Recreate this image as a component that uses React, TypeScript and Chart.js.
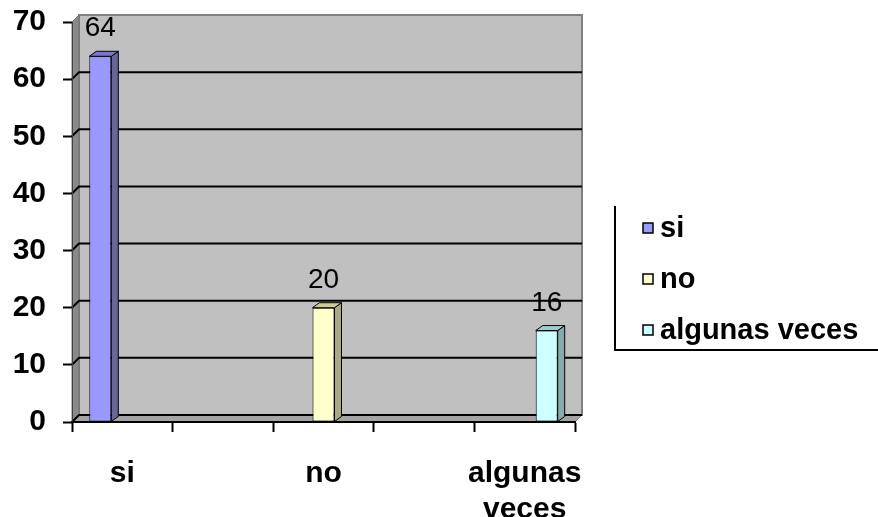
import React, { useEffect, useRef } from 'react';
import { Chart, registerables } from 'chart.js';

Chart.register(...registerables);

// ---- data ----
const categories = ['si', 'no', 'algunas veces'];
const categoryPositions = [0.5, 2.5, 4.5];
const seriesNames = ['si', 'no', 'algunas veces'];
const siValues = [64, null, null];
const noValues = [null, 20, null];
const algunasValues = [null, null, 16];
const yMin = 0;
const yMax = 70;
const yStep = 10;
const xMin = 0;
const xMax = 5;

// ---- styles ----
const FONT = '"Liberation Sans", Arial, Helvetica, sans-serif';
const frontColors = ['#9999FF', '#FFFFCC', '#CCFFFF'];
const sideColors = ['#666699', '#AAAA88', '#88AAAA'];
const topColors = ['#7777CC', '#CCCC99', '#99CCCC'];
const WALL = { dx: 7, dy: 7 };
const BAR = { dx: 7, dy: 5 };

function poly(ctx: CanvasRenderingContext2D, pts: number[][], fill: string, stroke?: string, lw = 1) {
  ctx.beginPath();
  ctx.moveTo(pts[0][0], pts[0][1]);
  for (let i = 1; i < pts.length; i++) ctx.lineTo(pts[i][0], pts[i][1]);
  ctx.closePath();
  ctx.fillStyle = fill;
  ctx.fill();
  if (stroke) {
    ctx.strokeStyle = stroke;
    ctx.lineWidth = lw;
    ctx.stroke();
  }
}

const wallPlugin = {
  id: 'wall3d',
  beforeDraw(chart: any) {
    const { ctx, chartArea } = chart;
    const { left, right, top, bottom } = chartArea;
    const y = chart.scales.y;
    ctx.save();
    poly(ctx, [
      [left + WALL.dx, top - WALL.dy],
      [right + WALL.dx, top - WALL.dy],
      [right + WALL.dx, bottom - WALL.dy],
      [left + WALL.dx, bottom - WALL.dy],
    ], '#C0C0C0', '#808080', 2);
    poly(ctx, [
      [left, top],
      [left + WALL.dx, top - WALL.dy],
      [left + WALL.dx, bottom - WALL.dy],
      [left, bottom],
    ], '#8A8A8A', '#707070', 1);
    poly(ctx, [
      [left, bottom],
      [left + WALL.dx, bottom - WALL.dy],
      [right + WALL.dx, bottom - WALL.dy],
      [right, bottom],
    ], '#A4A4A4', '#808080', 1);
    ctx.strokeStyle = '#000';
    ctx.lineWidth = 2;
    y.ticks.forEach((t: any) => {
      if (t.value >= y.max) return;
      const py = y.getPixelForValue(t.value);
      ctx.beginPath();
      ctx.moveTo(left, py);
      ctx.lineTo(left + WALL.dx, py - WALL.dy);
      ctx.lineTo(right + WALL.dx, py - WALL.dy);
      ctx.stroke();
    });
    ctx.restore();
  },
};

const barPlugin = {
  id: 'bar3d',
  afterDatasetsDraw(chart: any) {
    const { ctx } = chart;
    ctx.save();
    chart.data.datasets.forEach((ds: any, di: number) => {
      const meta = chart.getDatasetMeta(di);
      meta.data.forEach((el: any, i: number) => {
        const raw = ds.data[i];
        if (!raw || raw.y === null || raw.y === undefined) return;
        const { x, y, base, width } = el.getProps(['x', 'y', 'base', 'width'], true);
        const l = x - width / 2;
        const r = x + width / 2;
        poly(ctx, [[r, y], [r + BAR.dx, y - BAR.dy], [r + BAR.dx, base - BAR.dy], [r, base]], sideColors[di], '#000', 1);
        poly(ctx, [[l, y], [l + BAR.dx, y - BAR.dy], [r + BAR.dx, y - BAR.dy], [r, y]], topColors[di], '#000', 1);
        ctx.fillStyle = '#000';
        ctx.font = `28px ${FONT}`;
        ctx.textAlign = 'center';
        ctx.textBaseline = 'alphabetic';
        ctx.fillText(String(raw.y), x, y - 20);
      });
    });
    ctx.restore();
  },
};

const legendPlugin = {
  id: 'sideLegend',
  afterDraw(chart: any) {
    const { ctx } = chart;
    const L = { lineX: 615, top: 206, bottomY: 350, boxX: 643, box: 10, textX: 660, firstY: 228, step: 51 };
    ctx.save();
    ctx.strokeStyle = '#000';
    ctx.lineWidth = 2;
    ctx.beginPath();
    ctx.moveTo(L.lineX, L.top);
    ctx.lineTo(L.lineX, L.bottomY);
    ctx.lineTo(chart.width, L.bottomY);
    ctx.stroke();
    chart.data.datasets.forEach((ds: any, i: number) => {
      const cy = L.firstY + i * L.step;
      ctx.fillStyle = ds.backgroundColor;
      ctx.fillRect(L.boxX, cy - L.box / 2, L.box, L.box);
      ctx.lineWidth = 1.5;
      ctx.strokeStyle = '#000';
      ctx.strokeRect(L.boxX, cy - L.box / 2, L.box, L.box);
      ctx.fillStyle = '#000';
      ctx.font = `bold 29px ${FONT}`;
      ctx.textAlign = 'left';
      ctx.textBaseline = 'middle';
      ctx.fillText(ds.label, L.textX, cy + 1);
    });
    ctx.restore();
  },
};

export default function App() {
  const ref = useRef<HTMLCanvasElement>(null);
  useEffect(() => {
    if (!ref.current) return;
    const seriesValues = [siValues, noValues, algunasValues];
    const chart = new Chart(ref.current, {
      type: 'bar',
      data: {
        datasets: seriesNames.map((name, si) => ({
          label: name,
          data: seriesValues[si].map((v, ci) => ({ x: categoryPositions[ci], y: v })),
          backgroundColor: frontColors[si],
          borderColor: '#000',
          borderWidth: 1,
          borderSkipped: false,
          categoryPercentage: 0.656,
          barPercentage: 1,
          xAxisID: 'x',
          yAxisID: 'y',
        })),
      },
      options: {
        animation: false,
        responsive: false,
        devicePixelRatio: 1,
        layout: { padding: { top: 22, right: 303, left: 0, bottom: 0 } },
        plugins: { legend: { display: false }, tooltip: { enabled: false } },
        scales: {
          y: {
            type: 'linear',
            min: yMin,
            max: yMax,
            ticks: { stepSize: yStep, color: '#000', font: { family: FONT, size: 30, weight: 'bold' }, padding: 17 },
            grid: { drawOnChartArea: false, tickLength: 9, tickColor: '#000', tickWidth: 2 },
            border: { display: true, color: '#404040', width: 1 },
            afterFit: (s: any) => { s.width = 72; s.paddingTop = 0; s.paddingBottom = 0; },
          },
          x: {
            type: 'linear',
            position: 'bottom',
            min: xMin,
            max: xMax,
            offset: false,
            ticks: { stepSize: 1, callback: () => '', autoSkip: false },
            grid: { offset: false, drawOnChartArea: false, tickLength: 10, tickColor: '#000', tickWidth: 2 },
            border: { display: true, color: '#000', width: 2 },
            afterFit: (s: any) => { s.height = 10; },
          },
          x2: {
            type: 'linear',
            position: 'bottom',
            min: xMin,
            max: xMax,
            offset: false,
            afterBuildTicks: (s: any) => { s.ticks = categoryPositions.map((v) => ({ value: v })); },
            ticks: {
              autoSkip: false,
              maxRotation: 0,
              padding: 16,
              color: '#000',
              font: { family: FONT, size: 30, weight: 'bold' },
              callback: (v: any) => {
                const i = categoryPositions.indexOf(Number(v));
                return i >= 0 ? categories[i].split(' ') : '';
              },
            },
            grid: { display: false, offset: false },
            border: { display: false },
            afterFit: (s: any) => { s.height = 85; },
          },
        },
      } as any,
      plugins: [wallPlugin, barPlugin, legendPlugin],
    });
    return () => chart.destroy();
  }, []);
  return (
    <div style={{ position: 'absolute', left: 0, top: 0, width: 878, height: 517, background: '#fff' }}>
      <canvas ref={ref} width={878} height={517} style={{ width: 878, height: 517, display: 'block' }} />
    </div>
  );
}
